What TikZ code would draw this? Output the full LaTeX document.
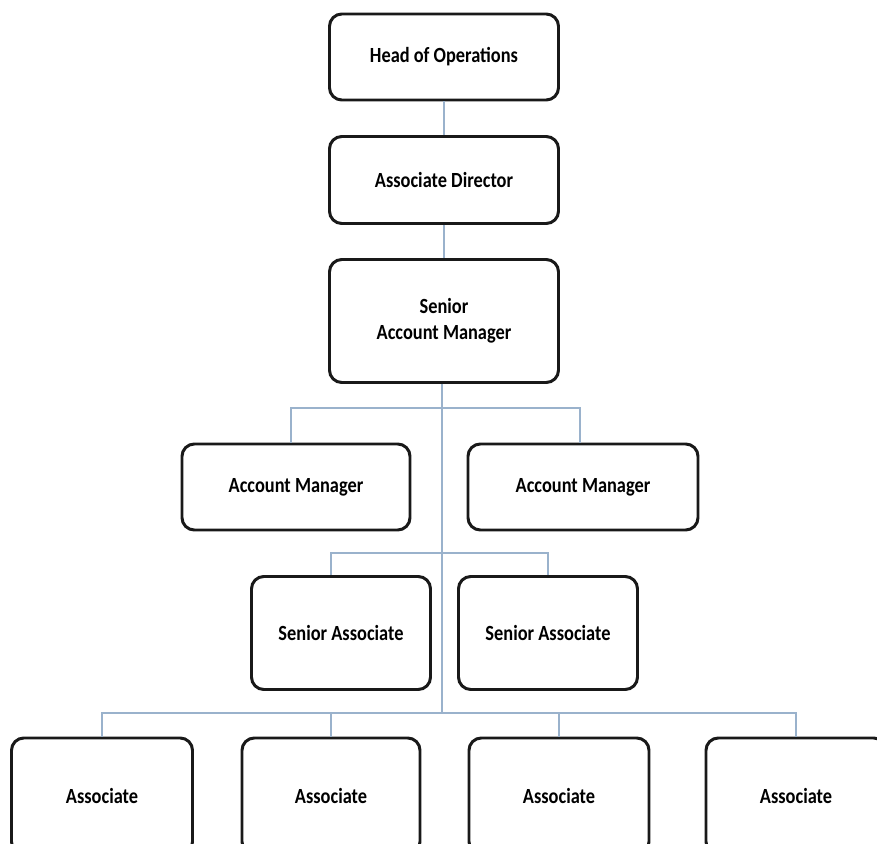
\documentclass[tikz,border=0pt]{standalone}
\usepackage{fontspec}
\setmainfont{Carlito}[FakeStretch=0.85]
\usetikzlibrary{positioning}
\definecolor{linkblue}{HTML}{9AB2CC}
\tikzset{
  box/.style={draw=black!90, line width=1.7pt, rounded corners=7pt, align=center,
    font=\fontsize{12.3}{15}\selectfont\bfseries, inner sep=0pt},
  link/.style={draw=linkblue, line width=0.8pt}
}

\begin{document}
\begin{tikzpicture}[x=0.02cm, y=-0.02cm]
        \clip (0,0) rectangle (877,844);
        %nodes
        \node[box, minimum width=229*0.02cm, minimum height=86*0.02cm] (hoo) at (444, 57) {Head of Operations};
        \node[box, minimum width=229*0.02cm, minimum height=87*0.02cm] (ad) at (444, 180) {Associate Director};
        \node[box, minimum width=229*0.02cm, minimum height=123*0.02cm] (sam) at (444, 321) {Senior\\Account Manager};
        \node[box, minimum width=228*0.02cm, minimum height=86*0.02cm] (am1) at (296, 487) {Account Manager};
        \node[box, minimum width=230*0.02cm, minimum height=86*0.02cm] (am2) at (583, 487) {Account Manager};
        \node[box, minimum width=179*0.02cm, minimum height=113*0.02cm] (sa1) at (341, 633) {Senior Associate};
        \node[box, minimum width=179*0.02cm, minimum height=113*0.02cm] (sa2) at (548, 633) {Senior Associate};
        \node[box, minimum width=181*0.02cm, minimum height=116*0.02cm] (as1) at (102, 796) {Associate};
        \node[box, minimum width=178*0.02cm, minimum height=116*0.02cm] (as2) at (331, 796) {Associate};
        \node[box, minimum width=180*0.02cm, minimum height=116*0.02cm] (as3) at (559, 796) {Associate};
        \node[box, minimum width=180*0.02cm, minimum height=116*0.02cm] (as4) at (796, 796) {Associate};
        \coordinate (bus1) at (442, 408);
        \coordinate (bus2) at (442, 553);
        \coordinate (bus3) at (442, 713);
        %edges
        \path[link] (hoo) -- (ad);
        \path[link] (ad) -- (sam);
        \path[link] (sam.south -| bus1) -- (bus3);
        \path[link] (bus1) -| ([xshift=-5*0.02cm]am1.north);
        \path[link] (bus1) -| ([xshift=-3*0.02cm]am2.north);
        \path[link] (bus2) -| ([xshift=-10*0.02cm]sa1.north);
        \path[link] (bus2) -| (sa2.north);
        \path[link] (bus3) -| (as1.north);
        \path[link] (bus3) -| (as2.north);
        \path[link] (bus3) -| (as3.north);
        \path[link] (bus3) -| (as4.north);
\end{tikzpicture}
\end{document}
